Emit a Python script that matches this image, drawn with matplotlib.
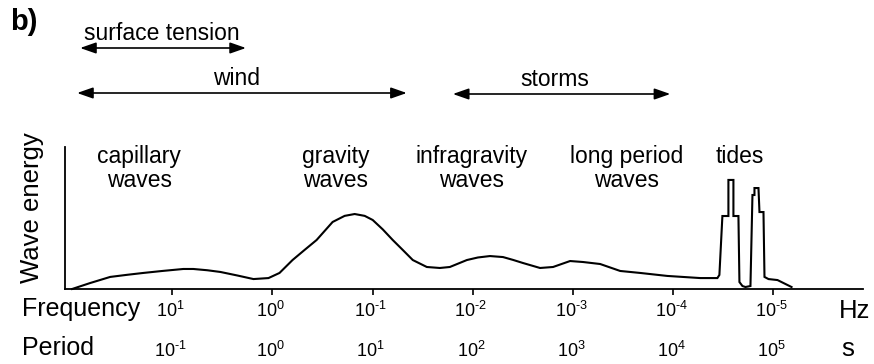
import matplotlib
matplotlib.use("Agg")
import matplotlib.pyplot as plt

# ---------------- data ----------------
# spectrum curve: x = log10(period in s), y = wave energy (arbitrary units)
log_period = [-2.00, -1.82, -1.62, -1.45, -1.29, -1.10, -0.89, -0.79, -0.65, -0.52, -0.35,
              -0.19, -0.04, 0.07, 0.20, 0.32, 0.44, 0.60, 0.72, 0.82, 0.92, 1.00, 1.10,
              1.20, 1.30, 1.40, 1.54, 1.67, 1.77, 1.94, 2.05, 2.17, 2.30, 2.40, 2.50,
              2.67, 2.80, 2.97, 3.10, 3.27, 3.47, 3.67, 3.94, 4.27, 4.44, 4.46,
              4.49, 4.55, 4.55, 4.60, 4.60, 4.65, 4.66, 4.69, 4.72, 4.77,
              4.79, 4.81, 4.81, 4.85, 4.86, 4.90, 4.91, 4.95, 5.04, 5.18]
energy = [0.00, 0.42, 0.85, 1.00, 1.13, 1.27, 1.41, 1.41, 1.32, 1.20, 0.95,
          0.70, 0.77, 1.13, 2.04, 2.75, 3.45, 4.72, 5.15, 5.28, 5.15, 4.86, 4.20,
          3.45, 2.75, 2.04, 1.55, 1.48, 1.55, 2.04, 2.22, 2.32, 2.25, 2.05, 1.83,
          1.48, 1.55, 1.97, 1.90, 1.76, 1.27, 1.13, 0.92, 0.77, 0.77, 0.99,
          5.14, 5.14, 7.68, 7.68, 5.14, 5.14, 0.49, 0.21, 0.14, 0.21,
          6.62, 6.62, 7.11, 7.11, 5.42, 5.42, 0.85, 0.70, 0.63, 0.14]

# axis ticks (log10 period) and their labels
tick_exp = [-1, 0, 1, 2, 3, 4, 5]
freq_labels = [r"$10^{1}$", r"$10^{0}$", r"$10^{\text{-}1}$", r"$10^{\text{-}2}$",
               r"$10^{\text{-}3}$", r"$10^{\text{-}4}$", r"$10^{\text{-}5}$"]
period_labels = [r"$10^{\text{-}1}$", r"$10^{0}$", r"$10^{1}$", r"$10^{2}$",
                 r"$10^{3}$", r"$10^{4}$", r"$10^{5}$"]

# wave type labels and their centre (log10 period)
wave_names = ["capillary\nwaves", "gravity\nwaves", "infragravity\nwaves", "long period\nwaves", "tides"]
wave_pos = [-1.33, 0.63, 1.99, 3.53, 4.66]

# generating forces and their period ranges (log10 period)
force_names = ["surface tension", "wind", "storms"]
force_start = [-1.92, -1.95, 1.80]
force_end = [-0.265, 1.34, 3.97]

# ---------------- figure ----------------
plt.rcParams['font.family'] = ['Liberation Sans', 'DejaVu Sans']
plt.rcParams['mathtext.fontset'] = 'custom'
plt.rcParams['mathtext.rm'] = 'Liberation Sans'
plt.rcParams['mathtext.it'] = 'Liberation Sans:italic'
plt.rcParams['mathtext.bf'] = 'Liberation Sans:bold'

W, H = 874, 364
fig = plt.figure(figsize=(W / 100, H / 100), dpi=100)
ax = fig.add_axes([65 / W, (H - 289) / H, (863 - 65) / W, (289 - 147) / H])

def py2e(py):
    return (289 - py) / 14.2

def px2u(px):
    return (px - 272.5) / 100.2

ax.plot(log_period, energy, color='black', lw=1.5, solid_joinstyle='miter', clip_on=False)

ax.set_xlim(px2u(65), px2u(863))
ax.set_ylim(0, 10)
for s in ['top', 'right']:
    ax.spines[s].set_visible(False)
for s in ['left', 'bottom']:
    ax.spines[s].set_linewidth(1.3)
ax.set_yticks([])
ax.set_xticks(tick_exp)
ax.set_xticklabels([])
ax.tick_params(axis='x', direction='out', length=4, width=1.2)

# tick labels rows
for t, fl, pl in zip(tick_exp, freq_labels, period_labels):
    ax.text(t - 0.02, py2e(317), fl, ha='center', va='baseline', fontsize=13, clip_on=False)
    ax.text(t - 0.02, py2e(357), pl, ha='center', va='baseline', fontsize=13, clip_on=False)

ax.text(px2u(22), py2e(316), "Frequency", ha='left', va='baseline', fontsize=18, clip_on=False)
ax.text(px2u(22), py2e(355), "Period", ha='left', va='baseline', fontsize=18, clip_on=False)
ax.text(px2u(839), py2e(318), "Hz", ha='left', va='baseline', fontsize=18.5, clip_on=False)
ax.text(px2u(841), py2e(356), "s", ha='left', va='baseline', fontsize=18.5, clip_on=False)

ax.text(px2u(32), py2e(208), "Wave energy", rotation=90, ha='center', va='center',
        fontsize=18.5, clip_on=False)
ax.text(px2u(24), py2e(22), "b)", ha='center', va='center', fontsize=21,
        fontweight='bold', clip_on=False)

# wave type labels
for name, x in zip(wave_names, wave_pos):
    lines = name.split("\n")
    for i, line in enumerate(lines):
        ax.text(x, py2e(163 + 24 * i), line, ha='center', va='baseline', fontsize=16.5, clip_on=False)

# forcing arrows
arrow_py = [48, 93, 94]
label_py = [40.5, 85, 86]
label_x = [-1.10, -0.36, 2.82]
for name, a, b, apy, lpy, lx in zip(force_names, force_start, force_end, arrow_py, label_py, label_x):
    ax.annotate("", xy=(b, py2e(apy)), xytext=(a, py2e(apy)), annotation_clip=False,
                arrowprops=dict(arrowstyle='<|-|>,head_length=0.8,head_width=0.28',
                                lw=1.2, color='black', shrinkA=0, shrinkB=0, mutation_scale=12))
    ax.text(lx, py2e(lpy), name, ha='center', va='baseline', fontsize=16.5, clip_on=False)

fig.savefig("out.png", dpi=100)
